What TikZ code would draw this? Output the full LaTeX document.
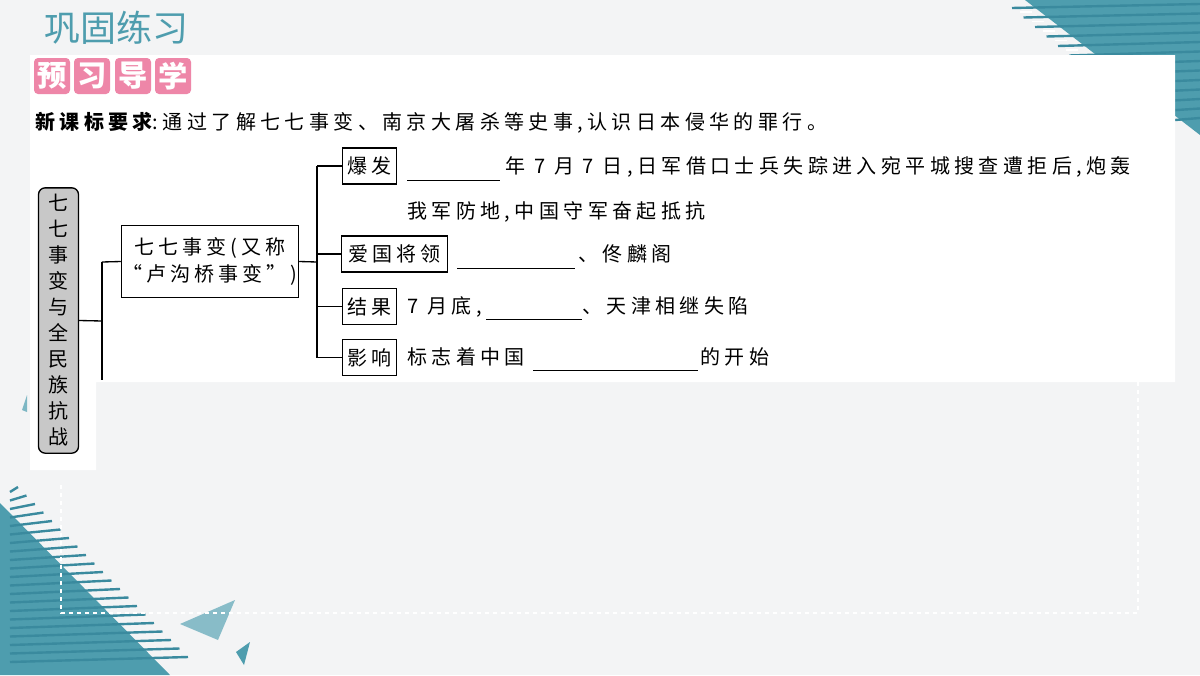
\documentclass[tikz,border=0pt]{standalone}
\usepackage{fontspec}
\newfontfamily\cjk{Noto Sans CJK SC}
\newfontfamily\cjksp[LetterSpace=22]{Noto Sans CJK SC}
\newfontfamily\cjkspb[LetterSpace=20]{Noto Sans CJK SC}
\definecolor{bg}{HTML}{F3F4F5}
\definecolor{teal}{HTML}{4E9DAE}
\definecolor{tealL}{HTML}{7DB7C4}
\definecolor{tealD}{HTML}{3A8A9E}
\definecolor{pinkb}{HTML}{EE86A8}
\definecolor{greyf}{HTML}{C8C8C8}
\tikzset{
 box/.style={draw=black,line width=0.8pt,fill=white,inner sep=3pt,font=\cjkspb\fontsize{15}{18}\selectfont},
 conn/.style={line width=1pt},
 txt/.style={anchor=base west,inner sep=0pt,font=\cjksp\fontsize{15}{18}\selectfont},
 pk/.style={fill=pinkb,rounded corners=3pt,text=white,font=\cjk\bfseries\fontsize{22}{24}\selectfont,minimum size=27pt,inner sep=0pt}
}
\begin{document}
\begin{tikzpicture}[x=0.75pt,y=-0.75pt]
\useasboundingbox (0,0) rectangle (1200,675);
\fill[bg] (0,0) rectangle (1200,675);
% top-right decoration
\fill[teal] (1025,0) -- (1200,0) -- (1200,135) -- cycle;
\foreach \i in {0,...,12}{\draw[tealD,line width=1.8pt] ({1012+\i*11.5},{8+\i*9.5}) -- (1200,{4+\i*9.5});}
\foreach \i in {0,...,4}{\draw[white,line width=1.2pt] ({1020+\i*11.5},{12+\i*9.5}) -- ++(12,0);}
% bottom-left decoration
\fill[teal] (0,503) -- (170,675) -- (0,675) -- cycle;
\foreach \i in {0,...,20}{\draw[tealD,line width=1.8pt] (10,{492+\i*8.5}) -- ({18+\i*8.5},{487+\i*8.5});}
\fill[tealL,opacity=0.9] (180,624) -- (235,600) -- (218,640) -- cycle;
\fill[teal] (236,652) -- (250,642) -- (244,665) -- cycle;
\fill[tealL] (22,410) -- (27,395) -- (27,412) -- cycle;
% dashed frame
\draw[white,dashed,line width=1pt] (61,485) -- (61,613) -- (1138,613) -- (1138,300);
% white panel
\fill[white] (30,55) -- (1175,55) -- (1175,382) -- (96,382) -- (96,470) -- (30,470) -- cycle;
% titles
\node[anchor=west,text=teal,font=\cjk\fontsize{27}{30}\selectfont,inner sep=0pt] (title) at (44,28) {巩固练习};
\node[pk] (p1) at (52,76) {预};
\node[pk] (p2) at (92,76) {习};
\node[pk] (p3) at (133,76) {导};
\node[pk] (p4) at (173,76) {学};
\node[anchor=base west,inner sep=0pt,font=\cjksp\fontsize{15}{18}\selectfont] (req) at (35,129) {{\bfseries 新课标要求}:通过了解七七事变、南京大屠杀等史事,认识日本侵华的罪行。};
% boxes
\node[draw=black,line width=1pt,fill=greyf,rounded corners=5pt,minimum width=30pt,minimum height=199pt,inner sep=0pt,align=center,font=\cjk\fontsize{15}{19.5}\selectfont] (root) at (58.5,320.5) {七\\七\\事\\变\\与\\全\\民\\族\\抗\\战};
\node[box,minimum width=124pt,minimum height=54pt,align=center,inner sep=1pt,font=\cjkspb\fontsize{15}{20}\selectfont] (mid) at (210,261.5) {七七事变(又称\\“卢沟桥事变”)};
\node[box,minimum width=41pt,minimum height=27pt] (b1) at (369.5,166) {爆发};
\node[box,minimum width=79pt,minimum height=27pt] (b2) at (394.5,254) {爱国将领};
\node[box,minimum width=41pt,minimum height=27pt] (b3) at (369.5,306.5) {结果};
\node[box,minimum width=41pt,minimum height=27pt] (b4) at (369.5,357.5) {影响};
% connectors
\coordinate (j1) at (102,321);
\coordinate (j2) at (317,262);
\draw[conn] (root.east) -- (j1);
\draw[conn] (102,262) -- (102,380);
\draw[conn] (102,262) -- (mid.west);
\draw[conn] (mid.east) -- (j2);
\draw[conn] (317,166) -- (317,357.5);
\draw[conn] (317,166) -- (b1.west);
\draw[conn] (317,254) -- (b2.west);
\draw[conn] (317,306.5) -- (b3.west);
\draw[conn] (317,357.5) -- (b4.west);
% texts
\draw[line width=0.6pt] (407,180) -- (500,180);
\node[txt] (t1) at (505,173) {年 7 月 7 日,日军借口士兵失踪进入宛平城搜查遭拒后,炮轰};
\node[txt] (t1b) at (407,218) {我军防地,中国守军奋起抵抗};
\draw[line width=0.6pt] (457,268) -- (575,268);
\node[txt] (t2) at (578,261) {、佟麟阁};
\node[txt] (t3) at (407,313) {7 月底,};
\draw[line width=0.6pt] (486,319) -- (582,319);
\node[txt] (t3b) at (582,313) {、天津相继失陷};
\node[txt] (t4) at (407,364) {标志着中国};
\draw[line width=0.6pt] (533,370) -- (698,370);
\node[txt] (t4b) at (700,364) {的开始};
\end{tikzpicture}
\end{document}
